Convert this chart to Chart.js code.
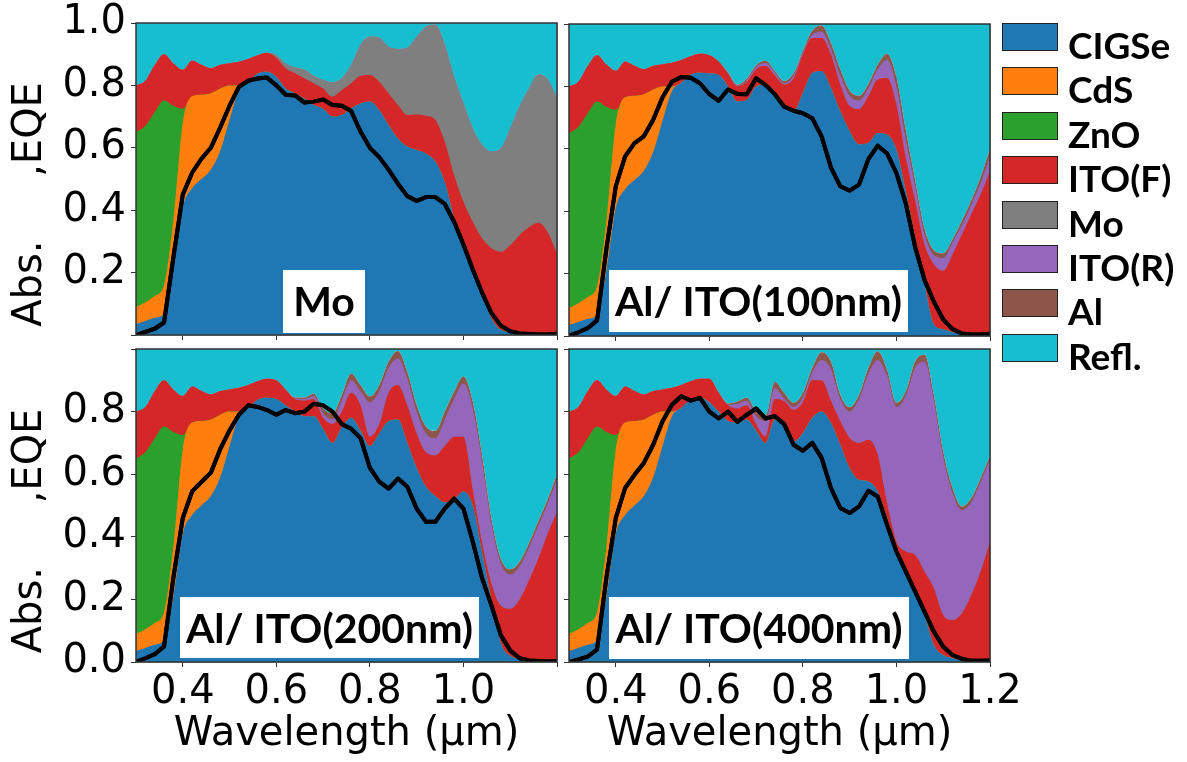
<!DOCTYPE html>
<html>
<head>
<meta charset="utf-8">
<script src="https://cdn.jsdelivr.net/npm/chart.js@4.4.0/dist/chart.umd.min.js"></script>
<style>
  body { margin: 0; background: #fff; }
  #fig { position: relative; width: 1187px; height: 762px; overflow: hidden; }
  #fig canvas { position: absolute; }
  .sw { position: absolute; left: 1002px; width: 56px; height: 28px; box-sizing: border-box; border: 1.5px solid #222; }
  .lb { position: absolute; left: 1068px; height: 28px; line-height: 28px; font: bold 37px Lato, sans-serif; color: #000; white-space: nowrap; }
</style>
</head>
<body>
<div id="fig">
  <canvas id="c1" width="560" height="340" style="left:0;top:0"></canvas>
  <canvas id="c2" width="627" height="341" style="left:560px;top:0"></canvas>
  <canvas id="c3" width="560" height="422" style="left:0;top:340px"></canvas>
  <canvas id="c4" width="627" height="422" style="left:560px;top:340px"></canvas>
  <div id="legend"></div>
</div>
<script>
// wavelength grid (µm)
const wavelength = [0.30,0.32,0.34,0.36,0.38,0.40,0.42,0.44,0.46,0.48,0.50,0.52,0.54,0.56,0.58,
  0.60,0.62,0.64,0.66,0.68,0.70,0.72,0.74,0.76,0.78,0.80,0.82,0.84,0.86,0.88,0.90,0.92,0.94,0.96,0.98,
  1.00,1.02,1.04,1.06,1.08,1.10,1.12,1.14,1.16,1.18,1.20];

const layerNames  = ['CIGSe','CdS','ZnO','ITO(F)','Mo','ITO(R)','Al','Refl.'];
const layerColors = ['#1f77b4','#ff7f0e','#2ca02c','#d62728','#7f7f7f','#9467bd','#8c564b','#17becf'];

const xTicks = [0.4, 0.6, 0.8, 1.0, 1.2];
const yTicks = [0.0, 0.2, 0.4, 0.6, 0.8, 1.0];

// cumulative top of each layer, 0.30-0.58 um (same front stack in all four cells)
const frontCIGSe = [0.035,0.045,0.055,0.07,0.21,0.41,0.47,0.50,0.53,0.59,0.69,0.785,0.812,0.838,0.844];
const frontCdS   = [0.09,0.105,0.125,0.16,0.37,0.68,0.765,0.77,0.775,0.79,0.80,0.80,0.812,0.838,0.844];
const frontZnO   = [0.65,0.67,0.715,0.752,0.735,0.725,0.765,0.77,0.775,0.79,0.80,0.80,0.812,0.838,0.844];
const frontITO   = [0.80,0.815,0.865,0.90,0.87,0.85,0.88,0.866,0.855,0.866,0.871,0.876,0.885,0.897,0.905];

// cumulative tops, 0.60-1.20 um
// Mo back contact
const moCIGSe = [0.828,0.79,0.775,0.758,0.737,0.725,0.70,0.705,0.726,0.742,0.748,0.721,0.673,0.63,0.604,0.593,0.582,0.556,0.491,0.374,0.278,0.203,0.128,0.053,0.016,0.01,0.005,0.004,0.003,0.003,0.003];
const moITOF  = [0.889,0.855,0.839,0.823,0.807,0.79,0.764,0.785,0.807,0.831,0.833,0.812,0.775,0.737,0.705,0.707,0.703,0.689,0.62,0.513,0.427,0.363,0.31,0.278,0.267,0.288,0.32,0.345,0.36,0.33,0.26];
const moMo    = [0.897,0.87,0.857,0.85,0.83,0.817,0.81,0.823,0.865,0.93,0.956,0.953,0.924,0.917,0.921,0.956,0.988,0.994,0.93,0.828,0.743,0.662,0.609,0.588,0.598,0.662,0.732,0.79,0.835,0.82,0.76];
// Al / ITO(100nm)
const i100CIGSe = [0.842,0.837,0.80,0.752,0.757,0.80,0.805,0.784,0.735,0.72,0.78,0.843,0.849,0.795,0.72,0.657,0.614,0.619,0.651,0.646,0.598,0.465,0.316,0.166,0.038,0.022,0.012,0.006,0.005,0.005,0.005];
const i100ITOF  = [0.90,0.88,0.84,0.80,0.815,0.855,0.865,0.835,0.806,0.825,0.902,0.955,0.955,0.902,0.806,0.737,0.727,0.769,0.822,0.827,0.742,0.571,0.433,0.294,0.23,0.209,0.262,0.326,0.39,0.454,0.529];
const i100ITOR  = [0.90,0.88,0.842,0.802,0.82,0.862,0.875,0.845,0.81,0.835,0.91,0.965,0.975,0.92,0.835,0.77,0.755,0.795,0.855,0.885,0.80,0.63,0.48,0.325,0.26,0.25,0.30,0.355,0.42,0.49,0.575];
const i100Al    = [0.90,0.88,0.845,0.805,0.825,0.868,0.882,0.85,0.817,0.842,0.915,0.978,0.995,0.94,0.855,0.787,0.77,0.808,0.87,0.905,0.83,0.66,0.50,0.345,0.275,0.265,0.31,0.37,0.435,0.51,0.60];
// Al / ITO(200nm)
const i200CIGSe = [0.84,0.82,0.80,0.785,0.785,0.745,0.70,0.75,0.78,0.74,0.69,0.73,0.77,0.775,0.70,0.62,0.56,0.53,0.51,0.52,0.545,0.50,0.35,0.20,0.06,0.02,0.01,0.006,0.005,0.005,0.005];
const i200ITOF  = [0.90,0.87,0.84,0.835,0.84,0.78,0.76,0.80,0.86,0.82,0.72,0.76,0.86,0.885,0.82,0.73,0.67,0.66,0.69,0.72,0.72,0.55,0.38,0.25,0.18,0.17,0.20,0.26,0.33,0.41,0.48];
const i200ITOR  = [0.90,0.87,0.842,0.84,0.85,0.795,0.775,0.835,0.90,0.865,0.83,0.865,0.94,0.97,0.905,0.80,0.73,0.715,0.775,0.84,0.89,0.81,0.64,0.44,0.315,0.28,0.305,0.365,0.435,0.505,0.585];
const i200Al    = [0.90,0.87,0.845,0.845,0.858,0.81,0.794,0.853,0.922,0.885,0.848,0.885,0.96,0.994,0.927,0.821,0.752,0.738,0.80,0.864,0.912,0.832,0.661,0.458,0.33,0.296,0.32,0.38,0.45,0.52,0.60];
// Al / ITO(400nm)
const i400CIGSe = [0.83,0.80,0.77,0.765,0.775,0.74,0.70,0.775,0.77,0.705,0.732,0.78,0.80,0.764,0.694,0.62,0.582,0.577,0.545,0.46,0.364,0.289,0.225,0.15,0.054,0.022,0.012,0.006,0.005,0.005,0.005];
const i400ITOF  = [0.905,0.86,0.82,0.81,0.82,0.76,0.72,0.84,0.833,0.806,0.83,0.90,0.90,0.835,0.769,0.716,0.70,0.71,0.662,0.508,0.385,0.353,0.342,0.289,0.236,0.15,0.134,0.156,0.214,0.289,0.385];
const i400ITOR  = [0.905,0.86,0.822,0.825,0.835,0.785,0.77,0.875,0.842,0.815,0.845,0.925,0.965,0.935,0.84,0.80,0.84,0.92,0.965,0.915,0.815,0.85,0.94,0.96,0.835,0.655,0.54,0.485,0.51,0.575,0.645];
const i400Al    = [0.905,0.862,0.826,0.832,0.845,0.80,0.785,0.895,0.86,0.828,0.86,0.94,0.99,0.96,0.854,0.814,0.854,0.94,0.993,0.934,0.828,0.865,0.961,0.982,0.854,0.673,0.556,0.497,0.524,0.588,0.657];

// measured EQE, full grid
const eqeMo   = [0,0.01,0.02,0.04,0.25,0.45,0.52,0.565,0.60,0.665,0.735,0.795,0.815,0.822,0.825,0.80,0.77,0.768,0.745,0.748,0.755,0.737,0.735,0.718,0.652,0.60,0.57,0.53,0.485,0.445,0.43,0.442,0.442,0.42,0.363,0.29,0.21,0.135,0.07,0.03,0.012,0.005,0.003,0.002,0.002,0.004];
const eqe100  = [0,0.012,0.025,0.05,0.28,0.48,0.576,0.618,0.64,0.693,0.765,0.815,0.83,0.828,0.81,0.775,0.754,0.79,0.776,0.775,0.826,0.805,0.775,0.735,0.722,0.714,0.698,0.64,0.54,0.48,0.466,0.485,0.567,0.61,0.585,0.522,0.425,0.285,0.18,0.11,0.053,0.022,0.008,0.005,0.005,0.007];
const eqe200  = [0,0.012,0.025,0.05,0.27,0.46,0.545,0.575,0.605,0.68,0.74,0.79,0.82,0.815,0.805,0.79,0.805,0.795,0.80,0.825,0.82,0.80,0.76,0.745,0.715,0.62,0.576,0.554,0.586,0.56,0.49,0.448,0.448,0.49,0.522,0.49,0.384,0.267,0.18,0.085,0.037,0.012,0.005,0.003,0.002,0.003];
const eqe400  = [0,0.008,0.017,0.04,0.27,0.46,0.556,0.598,0.636,0.694,0.769,0.822,0.849,0.835,0.844,0.80,0.778,0.80,0.767,0.79,0.81,0.778,0.785,0.76,0.694,0.675,0.70,0.652,0.556,0.492,0.476,0.497,0.547,0.529,0.438,0.353,0.289,0.225,0.161,0.097,0.049,0.022,0.01,0.004,0.004,0.005];

const font = { family: 'DejaVu Sans', size: 40 };
const gridColor = '#b0b0b0';

// null = layer absent, same top as the layer below
const panels = [
  { id: 'c1', name: 'Mo', eqe: eqeMo,
    tops: [frontCIGSe.concat(moCIGSe), frontCdS.concat(moCIGSe), frontZnO.concat(moCIGSe),
           frontITO.concat(moITOF), frontITO.concat(moMo), null, null],
    pad: { top: 23, right: 3 }, yW: 136, xH: 5, showY: true, showX: false,
    yLabels: ['', '0.2', '0.4', '0.6', '0.8', '1.0'], xLabels: null,
    box: { x: 147, y: 247, w: 82, h: 63 } },
  { id: 'c2', name: 'Al/ ITO(100nm)', eqe: eqe100,
    tops: [frontCIGSe.concat(i100CIGSe), frontCdS.concat(i100CIGSe), frontZnO.concat(i100CIGSe),
           frontITO.concat(i100ITOF), null, frontITO.concat(i100ITOR), frontITO.concat(i100Al)],
    pad: { top: 24, right: 197 }, yW: 9, xH: 5, showY: false, showX: false,
    yLabels: null, xLabels: null,
    box: { x: 40, y: 246, w: 299, h: 62 } },
  { id: 'c3', name: 'Al/ ITO(200nm)', eqe: eqe200,
    tops: [frontCIGSe.concat(i200CIGSe), frontCdS.concat(i200CIGSe), frontZnO.concat(i200CIGSe),
           frontITO.concat(i200ITOF), null, frontITO.concat(i200ITOR), frontITO.concat(i200Al)],
    pad: { top: 9, right: 3 }, yW: 136, xH: 100, showY: true, showX: true,
    yLabels: ['0.0', '0.2', '0.4', '0.6', '0.8', ''], xLabels: ['0.4', '0.6', '0.8', '1.0', ''],
    box: { x: 44, y: 248, w: 299, h: 61 } },
  { id: 'c4', name: 'Al/ ITO(400nm)', eqe: eqe400,
    tops: [frontCIGSe.concat(i400CIGSe), frontCdS.concat(i400CIGSe), frontZnO.concat(i400CIGSe),
           frontITO.concat(i400ITOF), null, frontITO.concat(i400ITOR), frontITO.concat(i400Al)],
    pad: { top: 9, right: 197 }, yW: 9, xH: 100, showY: false, showX: true,
    yLabels: null, xLabels: ['0.4', '0.6', '0.8', '1.0', '1.2'],
    box: { x: 40, y: 248, w: 300, h: 62 } }
];

// EQE on top of the grid, label box, frame
const panelDecor = {
  id: 'panelDecor',
  afterDraw(chart, args, opts) {
    const ctx = chart.ctx, a = chart.chartArea;
    ctx.save();
    ctx.beginPath();
    ctx.rect(a.left, a.top, a.width, a.height);
    ctx.clip();
    chart.getDatasetMeta(0).dataset.draw(ctx, a);
    ctx.restore();

    const b = opts.box;
    ctx.save();
    ctx.fillStyle = '#fff';
    ctx.fillRect(a.left + b.x, a.top + b.y, b.w, b.h);
    ctx.fillStyle = '#000';
    ctx.font = 'bold 41px Lato';
    ctx.textAlign = 'center';
    ctx.textBaseline = 'alphabetic';
    ctx.fillText(opts.text, a.left + b.x + b.w / 2, a.top + b.y + 46);
    ctx.strokeStyle = '#333';
    ctx.lineWidth = 1.5;
    ctx.strokeRect(a.left, a.top, a.width, a.height);
    ctx.restore();
  }
};

function pts(arr) {
  return arr.map((v, i) => ({ x: wavelength[i], y: v }));
}

panels.forEach(p => {
  const datasets = [{
    label: 'EQE', data: pts(p.eqe), borderColor: '#000', borderWidth: 4,
    fill: false, tension: 0, pointRadius: 0, order: 0, borderJoinStyle: 'round'
  }];
  let prev = null;
  p.tops.forEach((top, k) => {
    const t = top || prev;
    prev = t;
    datasets.push({
      label: layerNames[k], data: pts(t), backgroundColor: layerColors[k],
      borderWidth: 0, pointRadius: 0, fill: 'origin', order: k + 1,
      cubicInterpolationMode: 'monotone'
    });
  });
  // reflection fills from the total absorption up to 1
  datasets.push({
    label: layerNames[7], data: pts(prev), backgroundColor: layerColors[7],
    borderWidth: 0, pointRadius: 0, fill: 'end', order: 8,
    cubicInterpolationMode: 'monotone'
  });

  new Chart(document.getElementById(p.id), {
    type: 'line',
    data: { datasets: datasets },
    plugins: [panelDecor],
    options: {
      responsive: false,
      animation: false,
      devicePixelRatio: 1,
      layout: { padding: { left: 0, bottom: 0, top: p.pad.top, right: p.pad.right } },
      plugins: {
        legend: { display: false },
        tooltip: { enabled: false },
        panelDecor: { box: p.box, text: p.name }
      },
      scales: {
        x: {
          type: 'linear', min: 0.3, max: 1.2, z: 1,
          afterBuildTicks: s => { s.ticks = xTicks.map(v => ({ value: v })); },
          afterFit: s => { s.height = p.xH; s.paddingLeft = 0; s.paddingRight = 0; },
          border: { display: false },
          grid: { color: gridColor, lineWidth: 1, tickLength: 5, tickColor: '#333' },
          ticks: {
            display: p.showX, color: '#000', font: font, padding: 2,
            maxRotation: 0, autoSkip: false,
            callback: (v, i) => p.xLabels ? p.xLabels[i] : ''
          },
          title: {
            display: p.showX, text: 'Wavelength (µm)', color: '#000',
            font: { family: 'DejaVu Sans', size: 40, lineHeight: 1.2 }, padding: { bottom: 3 }
          }
        },
        y: {
          min: 0, max: 1, z: 1,
          afterBuildTicks: s => { s.ticks = yTicks.map(v => ({ value: v })); },
          afterFit: s => { s.width = p.yW; s.paddingTop = 0; s.paddingBottom = 0; },
          border: { display: false },
          grid: { color: gridColor, lineWidth: 1, tickLength: 5, tickColor: '#333' },
          ticks: {
            display: p.showY, color: '#000', padding: 5,
            font: { family: 'DejaVu Sans', size: 40, lineHeight: 1 },
            callback: (v, i) => p.yLabels ? p.yLabels[i] : ''
          },
          title: {
            display: p.showY, text: 'Abs.     ,EQE    ', color: '#000',
            font: { family: 'DejaVu Sans', size: 40, lineHeight: 1.2 }, padding: { top: 7 }
          }
        }
      }
    }
  });
});

// legend
const legend = document.getElementById('legend');
layerNames.forEach((name, i) => {
  const top = 23 + i * 44.4;
  const sw = document.createElement('div');
  sw.className = 'sw';
  sw.style.top = top + 'px';
  sw.style.background = layerColors[i];
  legend.appendChild(sw);
  const lb = document.createElement('div');
  lb.className = 'lb';
  lb.style.top = (top - 1) + 'px';
  lb.textContent = name;
  legend.appendChild(lb);
});
</script>
</body>
</html>
